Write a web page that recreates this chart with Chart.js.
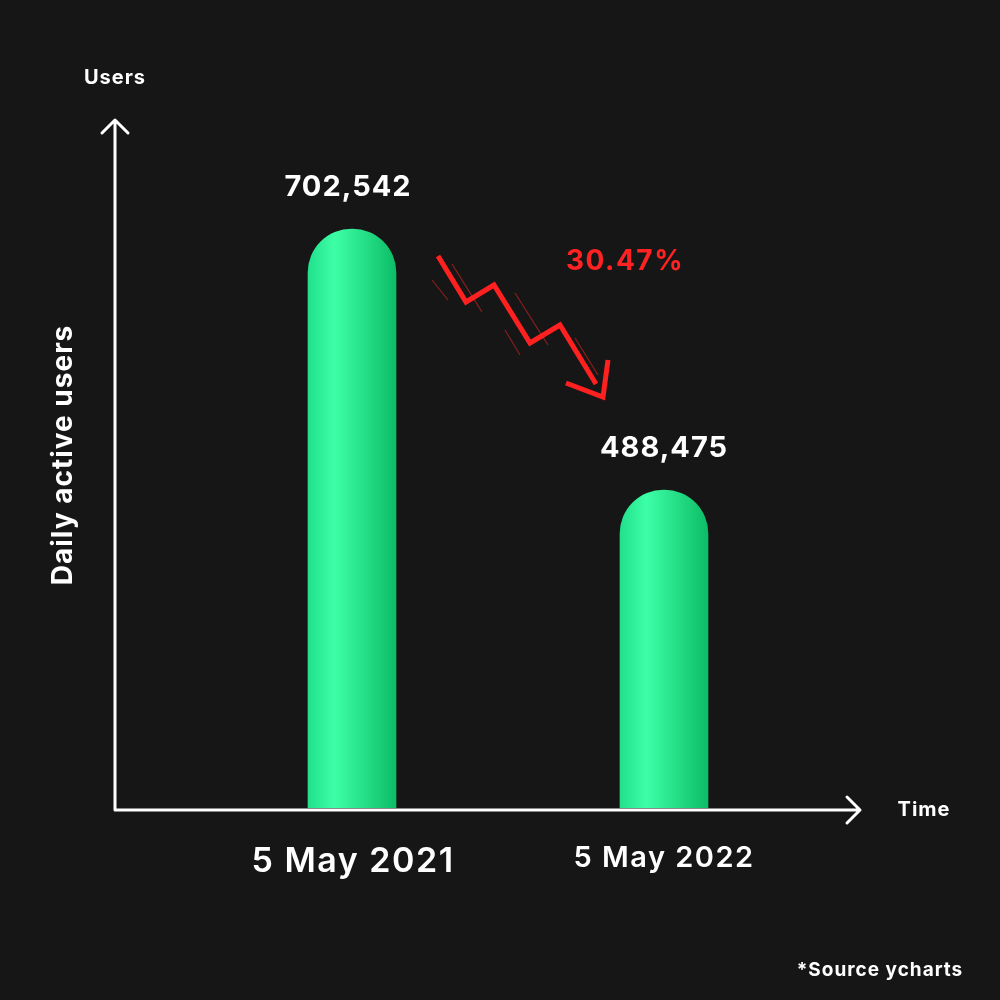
<!DOCTYPE html>
<html><head><meta charset="utf-8">
<script src="https://cdn.jsdelivr.net/npm/chart.js@4/dist/chart.umd.min.js"></script>
<style>html,body{margin:0;background:#161616}#w{width:1000px;height:1000px}</style>
</head><body><div id="w"><canvas id="c"></canvas></div>
<script>
const categories = ['5 May 2021', '5 May 2022'];
const users = [702542, 488475];
const valueLabels = ['702,542', '488,475'];
const changeLabel = '30.47%';
const F = 'Inter, "Open Sans", sans-serif';

const deco = {
  id: 'deco',
  afterDraw(ch) {
    const c = ch.ctx, a = ch.chartArea, meta = ch.getDatasetMeta(0);
    const L = a.left - 81, B = a.bottom + 2, T = a.top, R = a.right + 40;
    c.save();
    c.strokeStyle = '#fff'; c.lineWidth = 3; c.lineCap = 'round'; c.lineJoin = 'round';
    c.beginPath(); c.moveTo(L, B); c.lineTo(L, T); c.moveTo(L - 13, T + 13); c.lineTo(L, T); c.lineTo(L + 13, T + 13);
    c.moveTo(L, B); c.lineTo(R, B); c.moveTo(R - 13, B - 13); c.lineTo(R, B); c.lineTo(R - 13, B + 13); c.stroke();
    c.fillStyle = '#fff'; c.textAlign = 'center'; c.textBaseline = 'middle';
    c.letterSpacing = '1px';
    c.font = 'bold 20px ' + F; c.fillText('Users', L, 78);
    c.fillText('Time', R + 64, B);
    c.font = 'bold 19px ' + F; c.fillText('*Source ycharts', 880, 970);
    c.save(); c.translate(64, 455); c.rotate(-Math.PI / 2);
    c.font = 'bold 28px ' + F; c.fillText('Daily active users', 0, 0); c.restore();
    const sizes = [34, 29], ly = [862, 858];
    meta.data.forEach((b, i) => {
      c.letterSpacing = '1px';
      c.font = 'bold 29px ' + F; c.fillText(valueLabels[i], b.x - (i ? 0 : 4), b.y - 42);
      c.letterSpacing = '1.5px';
      c.font = '600 ' + sizes[i] + 'px ' + F; c.fillText(categories[i], b.x + (i ? 0 : 1), ly[i]);
    });
    c.letterSpacing = '1.5px';
    c.fillStyle = '#ff2222'; c.font = 'bold 28px ' + F; c.fillText(changeLabel, 625, 262);
    c.strokeStyle = '#ff2020'; c.lineWidth = 5; c.lineJoin = 'miter'; c.lineCap = 'butt';
    c.beginPath(); c.moveTo(438, 256); c.lineTo(466, 302); c.lineTo(494, 285); c.lineTo(530, 343); c.lineTo(560, 325); c.lineTo(596, 384); c.stroke();
    c.beginPath(); c.moveTo(566, 383); c.lineTo(603, 397); c.lineTo(608, 360); c.stroke();
    c.strokeStyle = 'rgba(255,40,40,0.5)'; c.lineWidth = 1.2;
    [[452, 264, 482, 312], [515, 293, 548, 345], [505, 330, 520, 355], [575, 338, 598, 375], [432, 280, 448, 300]].forEach(s => {
      c.beginPath(); c.moveTo(s[0], s[1]); c.lineTo(s[2], s[3]); c.stroke();
    });
    c.restore();
  }
};

new Chart(document.getElementById('c'), {
  type: 'bar',
  data: { labels: categories, datasets: [{ data: users, barThickness: 88, borderSkipped: 'bottom',
    borderRadius: { topLeft: 44, topRight: 44 },
    backgroundColor(ctx) {
      const sx = ctx.chart.scales && ctx.chart.scales.x;
      const x = sx ? sx.getPixelForValue(ctx.dataIndex) : NaN;
      if (!isFinite(x) || ctx.dataIndex === undefined) return '#2ef59a';
      const g = ctx.chart.ctx.createLinearGradient(x - 44, 0, x + 44, 0);
      g.addColorStop(0, '#22e08c'); g.addColorStop(0.3, '#3dffa6'); g.addColorStop(1, '#0cbd66');
      return g;
    } }] },
  options: {
    responsive: true, maintainAspectRatio: false, animation: false,
    layout: { padding: { top: 120, bottom: 192, left: 196, right: 180 } },
    plugins: { legend: { display: false }, tooltip: { enabled: false } },
    scales: { x: { display: false }, y: { display: false, min: 227700, max: 791900 } }
  },
  plugins: [deco]
});
</script></body></html>
